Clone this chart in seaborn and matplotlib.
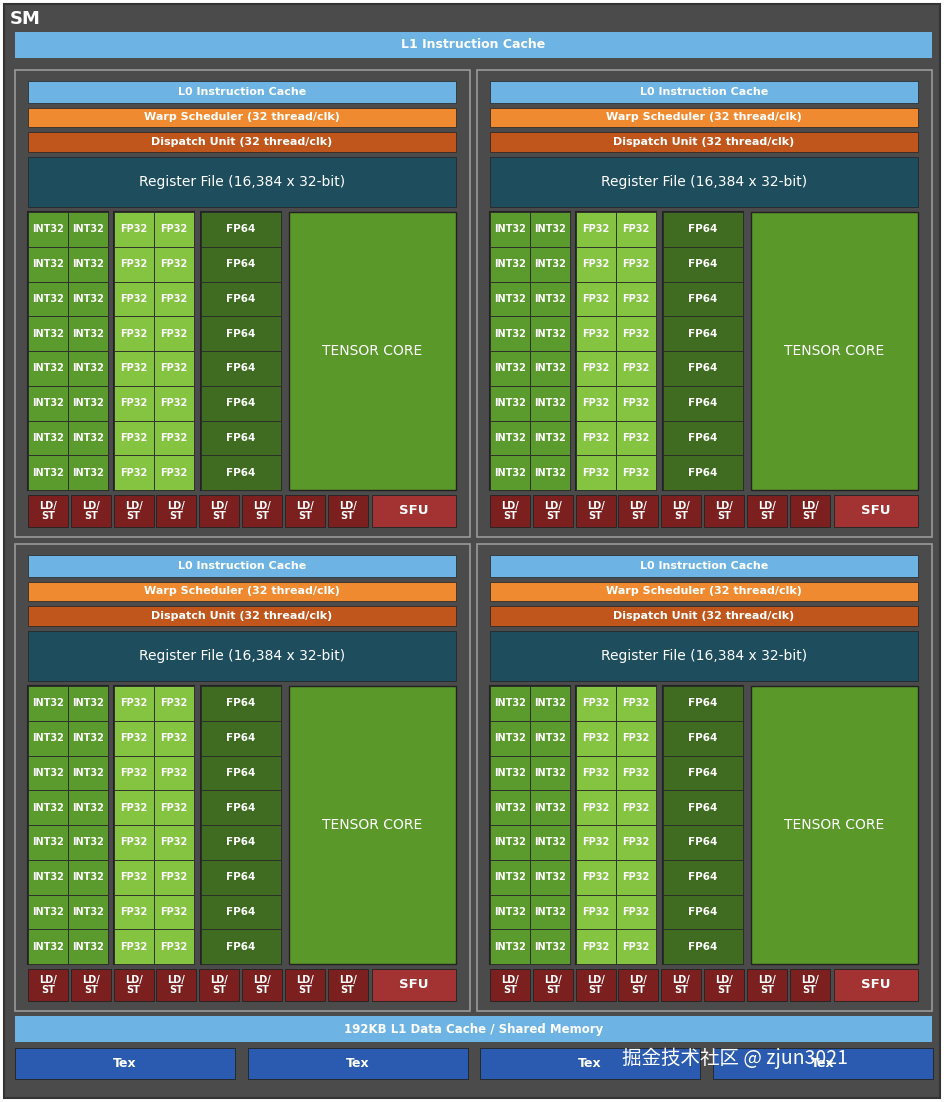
import matplotlib
matplotlib.use("Agg")
import matplotlib.pyplot as plt
from matplotlib.patches import Rectangle
from matplotlib import font_manager
import seaborn as sns
import numpy as np

sns.set_style("white")

# ---- data (labels) ----
top_label = "L1 Instruction Cache"
quad_bars = ["L0 Instruction Cache", "Warp Scheduler (32 thread/clk)",
             "Dispatch Unit (32 thread/clk)"]
reg_label = "Register File (16,384 x 32-bit)"
unit_cols = ["INT32", "FP32", "FP64"]
n_rows = 8
n_ldst = 8
bottom_label = "192KB L1 Data Cache / Shared Memory"
tex_labels = ["Tex", "Tex", "Tex", "Tex"]
watermark = "掘金技术社区 @ zjun3021"

C_BG = "#4b4b4b"
C_LB = "#6db3e3"
C_OR = "#f08a30"
C_BR = "#c0561c"
C_RF = "#1e4d5e"
C_INT = "#5b9a2c"
C_FP32 = "#84c441"
C_FP64 = "#3f6c20"
C_TC = "#5a982a"
C_LD = "#7b1f1f"
C_SFU = "#a33333"
C_TEX = "#2a5bb0"

# find a CJK font
cjk = None
for f in font_manager.fontManager.ttflist:
    if "CJK" in f.name and ("SC" in f.name or "JP" in f.name):
        cjk = f.name
        break
cjk_families = [n for n in [cjk, "Noto Sans CJK SC", "Noto Sans CJK JP", "DejaVu Sans"] if n]

fig = plt.figure(figsize=(9.44, 11.02), dpi=100)
ax = fig.add_axes([0, 0, 1, 1])
ax.set_xlim(0, 944); ax.set_ylim(1102, 0); ax.axis("off")

def box(x0, y0, x1, y1, fc, ec="none", lw=0.8, text=None, fs=9, tc="white", bold=True):
    ax.add_patch(Rectangle((x0, y0), x1 - x0, y1 - y0, fc=fc, ec=ec, lw=lw))
    if text:
        ax.text((x0 + x1) / 2, (y0 + y1) / 2, text, ha="center", va="center",
                color=tc, fontsize=fs, fontweight="bold" if bold else "normal",
                family="DejaVu Sans", linespacing=0.95)

box(4, 4, 940, 1098, C_BG, ec="#333333", lw=1.5)
ax.text(10, 19, "SM", color="white", fontsize=13, fontweight="bold", va="center")
box(15, 32, 932, 58, C_LB, text=top_label, fs=9)

for qx, qy in [(15, 70), (477, 70), (15, 544), (477, 544)]:
    box(qx, qy, qx + 455, qy + 467, C_BG, ec="#9a9a9a", lw=1.2)
    x0 = qx + 13; x1 = qx + 441
    ys = [(11, 33), (38, 57), (62, 82)]
    for (a, b), lab, c in zip(ys, quad_bars, [C_LB, C_OR, C_BR]):
        box(x0, qy + a, x1, qy + b, c, ec="#222222", lw=0.5, text=lab, fs=8)
    box(x0, qy + 87, x1, qy + 137, C_RF, ec="#222222", lw=0.5, text=reg_label, fs=10, bold=False)
    gy0 = qy + 142; gy1 = qy + 420
    rh = (gy1 - gy0) / n_rows
    col_x = [x0, x0 + 86, x0 + 173]
    for cx, lab in zip(col_x, unit_cols):
        ax.add_patch(Rectangle((cx, gy0), 80, gy1 - gy0, fc="none", ec="#222222", lw=1.5))
        for r in range(n_rows):
            y = gy0 + r * rh
            if lab == "FP64":
                box(cx, y, cx + 80, y + rh, C_FP64, ec="#2a2a2a", lw=0.6, text=lab, fs=7.5)
            else:
                c = C_INT if lab == "INT32" else C_FP32
                box(cx, y, cx + 40, y + rh, c, ec="#2a2a2a", lw=0.6, text=lab, fs=7)
                box(cx + 40, y, cx + 80, y + rh, c, ec="#2a2a2a", lw=0.6, text=lab, fs=7)
    box(qx + 274, gy0, x1, gy1, C_TC, ec="#222222", lw=1, text="TENSOR CORE", fs=10, bold=False)
    ly0 = qy + 425; ly1 = qy + 457
    pitch = 42.8
    for i in range(n_ldst):
        lx = x0 + i * pitch
        box(lx, ly0, lx + 40, ly1, C_LD, ec="#222222", lw=0.6, text="LD/\nST", fs=7)
    box(qx + 357, ly0, x1, ly1, C_SFU, ec="#222222", lw=0.6, text="SFU", fs=9.5)

box(15, 1016, 932, 1042, C_LB, text=bottom_label, fs=8.5)
for i, lab in enumerate(tex_labels):
    tx = 15 + i * 232.5
    box(tx, 1048, tx + 220, 1079, C_TEX, ec="#222222", lw=0.6, text=lab, fs=9)
ax.text(622, 1058, watermark, color="white", fontsize=14, va="center",
        family=cjk_families, zorder=5)

fig.savefig("out.png", dpi=100)
